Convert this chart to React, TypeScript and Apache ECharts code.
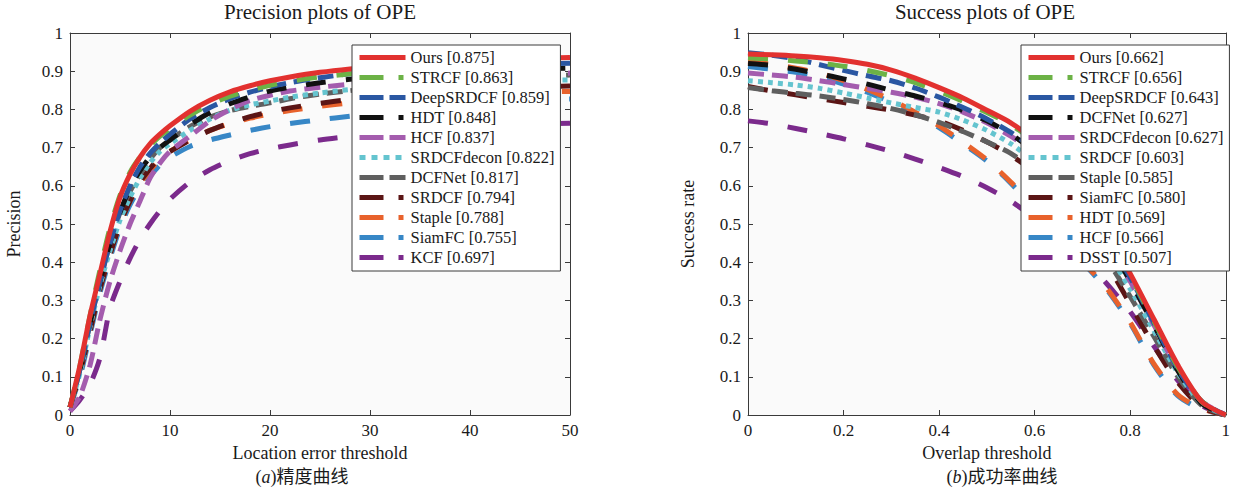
import React, { useEffect, useRef } from "react";
import * as echarts from "echarts";

// ---------- data ----------
const precX = [0, 1, 2, 3, 4, 5, 6, 7, 8, 9, 10, 12, 14, 16, 18, 20, 22, 25, 28, 31, 34, 37, 40, 43, 46, 50];
const succX = [0, 0.05, 0.1, 0.15, 0.2, 0.25, 0.3, 0.35, 0.4, 0.45, 0.5, 0.55, 0.6, 0.65, 0.7, 0.75, 0.8, 0.85, 0.9, 0.95, 1];

const precOurs = [0.02, 0.13, 0.26, 0.37, 0.48, 0.57, 0.63, 0.675, 0.71, 0.735, 0.757, 0.795, 0.824, 0.846, 0.862, 0.875, 0.885, 0.897, 0.906, 0.913, 0.919, 0.924, 0.928, 0.931, 0.933, 0.936];
const precSTRCF = [0.02, 0.13, 0.26, 0.38, 0.49, 0.575, 0.635, 0.675, 0.705, 0.73, 0.75, 0.785, 0.813, 0.835, 0.85, 0.863, 0.873, 0.885, 0.893, 0.9, 0.905, 0.909, 0.912, 0.914, 0.916, 0.918];
const precDeepSRDCF = [0.02, 0.12, 0.24, 0.35, 0.45, 0.535, 0.6, 0.65, 0.685, 0.712, 0.735, 0.775, 0.805, 0.828, 0.845, 0.859, 0.87, 0.883, 0.893, 0.9, 0.906, 0.911, 0.914, 0.917, 0.919, 0.921];
const precHDT = [0.02, 0.12, 0.24, 0.35, 0.45, 0.53, 0.595, 0.64, 0.675, 0.7, 0.72, 0.76, 0.792, 0.815, 0.833, 0.848, 0.858, 0.87, 0.879, 0.886, 0.892, 0.897, 0.9, 0.903, 0.906, 0.908];
const precHCF = [0.01, 0.05, 0.13, 0.25, 0.35, 0.43, 0.5, 0.56, 0.62, 0.66, 0.69, 0.73, 0.77, 0.8, 0.823, 0.837, 0.848, 0.858, 0.866, 0.873, 0.879, 0.884, 0.888, 0.891, 0.893, 0.895];
const precSRDCFdecon = [0.02, 0.11, 0.23, 0.34, 0.43, 0.51, 0.57, 0.62, 0.66, 0.69, 0.71, 0.745, 0.775, 0.798, 0.812, 0.822, 0.832, 0.843, 0.852, 0.859, 0.865, 0.869, 0.872, 0.874, 0.876, 0.877];
const precDCFNet = [0.02, 0.12, 0.24, 0.35, 0.45, 0.53, 0.585, 0.63, 0.67, 0.7, 0.72, 0.755, 0.78, 0.797, 0.808, 0.817, 0.828, 0.84, 0.849, 0.857, 0.864, 0.87, 0.876, 0.881, 0.886, 0.89];
const precSRDCF = [0.02, 0.11, 0.22, 0.33, 0.42, 0.5, 0.56, 0.61, 0.645, 0.675, 0.69, 0.72, 0.745, 0.765, 0.781, 0.794, 0.804, 0.816, 0.826, 0.835, 0.842, 0.848, 0.852, 0.856, 0.859, 0.861];
const precStaple = [0.02, 0.11, 0.22, 0.33, 0.42, 0.5, 0.56, 0.605, 0.64, 0.67, 0.69, 0.72, 0.745, 0.763, 0.777, 0.788, 0.797, 0.808, 0.817, 0.825, 0.831, 0.836, 0.84, 0.843, 0.845, 0.847];
const precSiamFC = [0.02, 0.1, 0.21, 0.32, 0.41, 0.49, 0.55, 0.595, 0.625, 0.655, 0.675, 0.703, 0.72, 0.733, 0.745, 0.755, 0.763, 0.773, 0.782, 0.79, 0.798, 0.806, 0.812, 0.818, 0.823, 0.827];
const precKCF = [0.01, 0.04, 0.08, 0.15, 0.28, 0.35, 0.41, 0.46, 0.5, 0.535, 0.565, 0.61, 0.642, 0.666, 0.684, 0.697, 0.707, 0.72, 0.73, 0.738, 0.745, 0.75, 0.755, 0.758, 0.761, 0.764];

const succOurs = [0.945, 0.943, 0.94, 0.935, 0.928, 0.918, 0.903, 0.882, 0.857, 0.83, 0.798, 0.765, 0.72, 0.66, 0.58, 0.48, 0.37, 0.25, 0.13, 0.035, 0];
const succSTRCF = [0.935, 0.932, 0.927, 0.921, 0.913, 0.902, 0.888, 0.87, 0.847, 0.821, 0.792, 0.76, 0.715, 0.655, 0.575, 0.475, 0.365, 0.245, 0.125, 0.035, 0];
const succDeepSRDCF = [0.948, 0.942, 0.932, 0.917, 0.902, 0.888, 0.875, 0.856, 0.832, 0.805, 0.775, 0.74, 0.695, 0.635, 0.56, 0.465, 0.36, 0.24, 0.12, 0.035, 0];
const succDCFNet = [0.92, 0.915, 0.905, 0.893, 0.88, 0.866, 0.85, 0.835, 0.818, 0.797, 0.77, 0.735, 0.69, 0.63, 0.555, 0.46, 0.35, 0.235, 0.115, 0.03, 0];
const succSRDCFdecon = [0.895, 0.89, 0.884, 0.875, 0.865, 0.855, 0.845, 0.832, 0.815, 0.793, 0.765, 0.73, 0.685, 0.625, 0.55, 0.455, 0.35, 0.235, 0.12, 0.035, 0];
const succSRDCF = [0.875, 0.87, 0.864, 0.855, 0.843, 0.83, 0.817, 0.805, 0.793, 0.772, 0.745, 0.71, 0.662, 0.6, 0.525, 0.43, 0.33, 0.22, 0.11, 0.03, 0];
const succStaple = [0.857, 0.849, 0.842, 0.835, 0.826, 0.815, 0.802, 0.786, 0.766, 0.742, 0.715, 0.685, 0.64, 0.58, 0.505, 0.41, 0.31, 0.205, 0.1, 0.025, 0];
const succSiamFC = [0.86, 0.848, 0.838, 0.828, 0.818, 0.808, 0.798, 0.785, 0.77, 0.745, 0.715, 0.68, 0.635, 0.575, 0.5, 0.4, 0.29, 0.18, 0.085, 0.02, 0];
const succHDT = [0.925, 0.918, 0.908, 0.895, 0.875, 0.852, 0.825, 0.793, 0.757, 0.714, 0.668, 0.61, 0.543, 0.473, 0.403, 0.333, 0.243, 0.133, 0.053, 0.016, 0];
const succHCF = [0.912, 0.905, 0.897, 0.885, 0.866, 0.845, 0.818, 0.788, 0.752, 0.71, 0.665, 0.607, 0.54, 0.47, 0.4, 0.33, 0.24, 0.13, 0.05, 0.015, 0];
const succDSST = [0.77, 0.762, 0.75, 0.737, 0.723, 0.707, 0.69, 0.67, 0.648, 0.624, 0.595, 0.56, 0.515, 0.465, 0.41, 0.345, 0.27, 0.18, 0.09, 0.025, 0];

const precNames = ["Ours [0.875]", "STRCF [0.863]", "DeepSRDCF [0.859]", "HDT [0.848]", "HCF [0.837]", "SRDCFdecon [0.822]", "DCFNet [0.817]", "SRDCF [0.794]", "Staple [0.788]", "SiamFC [0.755]", "KCF [0.697]"];
const precValues = [precOurs, precSTRCF, precDeepSRDCF, precHDT, precHCF, precSRDCFdecon, precDCFNet, precSRDCF, precStaple, precSiamFC, precKCF];
const succNames = ["Ours [0.662]", "STRCF [0.656]", "DeepSRDCF [0.643]", "DCFNet [0.627]", "SRDCFdecon [0.627]", "SRDCF [0.603]", "Staple [0.585]", "SiamFC [0.580]", "HDT [0.569]", "HCF [0.566]", "DSST [0.507]"];
const succValues = [succOurs, succSTRCF, succDeepSRDCF, succDCFNet, succSRDCFdecon, succSRDCF, succStaple, succSiamFC, succHDT, succHCF, succDSST];

const yTicks = [0, 0.1, 0.2, 0.3, 0.4, 0.5, 0.6, 0.7, 0.8, 0.9, 1];

// ---------- styles ----------
const C = {
  red: "#e2312f", green: "#6cb246", blue: "#2a57a2", black: "#111111", pink: "#a45cae",
  cyan: "#64c4cf", gray: "#5f5f5f", dred: "#5b1515", orange: "#e8622c", lblue: "#3787c6", purple: "#7b2a8c",
};
const precColors = [C.red, C.green, C.blue, C.black, C.pink, C.cyan, C.gray, C.dred, C.orange, C.lblue, C.purple];
const succColors = [C.red, C.green, C.blue, C.black, C.pink, C.cyan, C.gray, C.dred, C.orange, C.lblue, C.purple];
const styleKinds = ["solid", "dashdot", "dashed", "dashdot", "dashed", "dotted", "dashed", "dashdot", "dashdot", "dashdot", "dashdot"];
const plotDash: any = { solid: "solid", dashdot: [20, 20], dashed: [16, 8], dotted: [5, 5] };
const legendDash: any = { solid: "solid", dashdot: [24, 15, 5, 15], dashed: [24, 6], dotted: [6, 6] };

const FONT = "Liberation Serif";
const FONT_CJK = "Liberation Serif, Noto Sans CJK SC, serif";
const TXT = "#1a1a1a";

function axisPair(gridIndex: number, min: number, max: number, interval: number, isX: boolean, nameText: string, nameGap: number, fmt?: (v: number) => string) {
  const common = {
    gridIndex, type: "value", min, max, interval,
    axisLine: { show: true, onZero: false, lineStyle: { color: "#3a3a3a", width: 1 } },
    axisTick: { show: true, inside: true, length: 5, lineStyle: { color: "#3a3a3a" } },
    splitLine: { show: false },
  };
  const main = {
    ...common,
    position: isX ? "bottom" : "left",
    name: nameText, nameLocation: "middle", nameGap,
    nameTextStyle: { fontFamily: FONT, fontSize: 18, color: TXT },
    axisLabel: { show: true, fontFamily: FONT, fontSize: 17, color: TXT, margin: 7, formatter: fmt },
  };
  const other = { ...common, position: isX ? "top" : "right", axisLabel: { show: false } };
  return [main, other];
}

const yFmt = (v: number) => (v === 0 ? "0" : v === 1 ? "1" : v.toFixed(1));
const xFmt2 = (v: number) => (v === 0 ? "0" : v === 1 ? "1" : String(Math.round(v * 10) / 10));

export default function App() {
  const ref = useRef<HTMLDivElement>(null);
  useEffect(() => {
    document.body.style.margin = "0";
    const chart = echarts.init(ref.current!, undefined, { renderer: "svg" });

    const [x0, x0t] = axisPair(0, 0, 50, 10, true, "Location error threshold", 29);
    const [x1, x1t] = axisPair(1, 0, 1, 0.2, true, "Overlap threshold", 29, xFmt2);
    const [y0, y0r] = axisPair(0, yTicks[0], yTicks[yTicks.length - 1], 0.1, false, "Precision", 47, yFmt);
    const [y1, y1r] = axisPair(1, yTicks[0], yTicks[yTicks.length - 1], 0.1, false, "Success rate", 51, yFmt);

    const mkSeries = (names: string[], vals: number[][], xs: number[], colors: string[], axisBase: number) =>
      names.map((n, i) => ({
        name: n,
        type: "line",
        xAxisIndex: axisBase,
        yAxisIndex: axisBase,
        data: xs.map((x, j) => [x, vals[i][j]]),
        showSymbol: false,
        symbol: "none",
        smooth: 0.25,
        z: 20 - i,
        lineStyle: { color: colors[i], width: 5, type: plotDash[styleKinds[i]], cap: "butt" },
        itemStyle: { color: colors[i] },
      }));

    const mkLegend = (names: string[], colors: string[], left: number) => ({
      orient: "vertical",
      left, top: 45,
      backgroundColor: "#ffffff",
      borderColor: "#3a3a3a",
      borderWidth: 1,
      borderRadius: 0,
      padding: [4, 6, 5, 5],
      itemWidth: 46,
      itemHeight: 14,
      itemGap: 3,
      itemTextGap: 8,
      selectedMode: false,
      itemStyle: { opacity: 0 },
      textStyle: { fontFamily: FONT, fontSize: 16.5, color: TXT },
      data: names.map((n, i) => ({
        name: n,
        itemStyle: { opacity: 0 },
        lineStyle: { color: colors[i], width: 5, type: legendDash[styleKinds[i]] },
      })),
      z: 50,
    });

    const option: any = {
      animation: false,
      backgroundColor: "#ffffff",
      grid: [
        { left: 70, top: 33, width: 500, height: 382, show: true, backgroundColor: "#fafafa", borderWidth: 0 },
        { left: 748, top: 33, width: 482, height: 382, show: true, backgroundColor: "#fafafa", borderWidth: 0 },
      ],
      xAxis: [x0, x0t, x1, x1t],
      yAxis: [y0, y0r, y1, y1r],
      legend: [mkLegend(precNames, precColors, 352), mkLegend(succNames, succColors, 1021)],
      series: [
        ...mkSeries(precNames, precValues, precX, precColors, 0),
        ...mkSeries(succNames, succValues, succX, succColors, 2),
      ],
      graphic: [
        { type: "text", x: 320, y: 12, style: { text: "Precision plots of OPE", font: `21px ${FONT_CJK}`, fill: TXT, align: "center", verticalAlign: "middle" } },
        { type: "text", x: 985, y: 12, style: { text: "Success plots of OPE", font: `21px ${FONT_CJK}`, fill: TXT, align: "center", verticalAlign: "middle" } },
        {
          type: "text", x: 302, y: 477,
          style: {
            text: "({i|a})精度曲线", font: `18px ${FONT_CJK}`, fill: TXT, align: "center", verticalAlign: "middle",
            rich: { i: { fontStyle: "italic", fontFamily: FONT, fontSize: 18, fill: TXT } },
          },
        },
        {
          type: "text", x: 1002, y: 477,
          style: {
            text: "({i|b})成功率曲线", font: `18px ${FONT_CJK}`, fill: TXT, align: "center", verticalAlign: "middle",
            rich: { i: { fontStyle: "italic", fontFamily: FONT, fontSize: 18, fill: TXT } },
          },
        },
      ],
    };
    chart.setOption(option);
    return () => chart.dispose();
  }, []);
  return <div ref={ref} style={{ width: 1233, height: 490 }} />;
}
